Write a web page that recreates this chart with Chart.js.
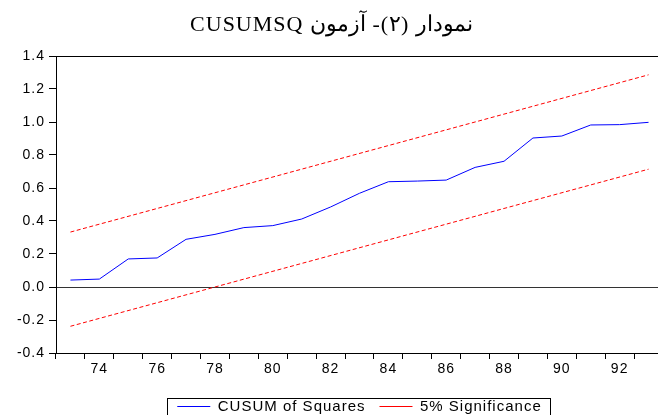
<!DOCTYPE html>
<html>
<head>
<meta charset="utf-8">
<script src="https://cdn.jsdelivr.net/npm/chart.js@4"></script>
<style>
  html, body { margin: 0; padding: 0; background: #fff; overflow: hidden; }
</style>
</head>
<body>
<canvas id="chart" width="663" height="424"></canvas>
<script>
// years on the x axis (every other one is labelled)
const years = ['73', '74', '75', '76', '77', '78', '79', '80', '81', '82', '83',
               '84', '85', '86', '87', '88', '89', '90', '91', '92', '93'];
const labelledYears = ['74', '76', '78', '80', '82', '84', '86', '88', '90', '92'];

// CUSUM of squares
const cusumSq = [0.042, 0.048, 0.170, 0.176, 0.289, 0.319, 0.360, 0.372, 0.412, 0.485, 0.568,
                 0.638, 0.642, 0.648, 0.725, 0.762, 0.903, 0.915, 0.982, 0.984, 0.998];

// 5% bands are straight lines: only the end values are given
const upperBand = [0.333, null, null, null, null, null, null, null, null, null, null,
                   null, null, null, null, null, null, null, null, null, 1.286];
const lowerBand = [-0.238, null, null, null, null, null, null, null, null, null, null,
                   null, null, null, null, null, null, null, null, null, 0.714];

const yTicks = [-0.4, -0.2, 0.0, 0.2, 0.4, 0.6, 0.8, 1.0, 1.2, 1.4];

const titleText = '\u202Bنمودار (۲)- آزمون CUSUMSQ\u202C';

Chart.defaults.color = '#000';
Chart.defaults.font.family = '"Liberation Sans", Arial, sans-serif';
Chart.defaults.font.size = 14;

// EViews style text is spaced out a bit
const spacing = {
  id: 'spacing',
  beforeUpdate(chart) { chart.ctx.letterSpacing = '1px'; },
  beforeDraw(chart) { chart.ctx.letterSpacing = '1px'; }
};

// frame round the legend
const legendFrame = {
  id: 'legendFrame',
  afterDraw(chart) {
    const boxes = chart.legend && chart.legend.legendHitBoxes;
    if (!boxes || !boxes.length) return;
    const first = boxes[0], last = boxes[boxes.length - 1];
    const left = Math.round(first.left - 10);
    const right = Math.round(last.left + last.width + 8);
    const top = Math.round(first.top + first.height / 2 - 9);
    const ctx = chart.ctx;
    ctx.save();
    ctx.strokeStyle = '#000';
    ctx.lineWidth = 1;
    ctx.strokeRect(left + 0.5, top + 0.5, right - left, 20);
    ctx.restore();
  }
};

new Chart(document.getElementById('chart'), {
  type: 'line',
  data: {
    labels: years,
    datasets: [
      {
        label: 'CUSUM of Squares',
        data: cusumSq,
        borderColor: '#0000ff',
        borderWidth: 1,
        pointRadius: 0,
        tension: 0
      },
      {
        label: '5% Significance',
        data: upperBand,
        borderColor: '#ff0000',
        borderWidth: 1,
        borderDash: [4, 2.5],
        pointRadius: 0,
        spanGaps: true
      },
      {
        label: '5% Significance (lower)',
        data: lowerBand,
        borderColor: '#ff0000',
        borderWidth: 1,
        borderDash: [4, 2.5],
        pointRadius: 0,
        spanGaps: true
      }
    ]
  },
  options: {
    responsive: false,
    animation: false,
    devicePixelRatio: 1,
    layout: { padding: 0 },
    plugins: {
      title: {
        display: true,
        text: titleText,
        font: { family: '"Liberation Serif", "Times New Roman", serif', size: 22, weight: 'normal' },
        padding: { top: 12, bottom: 17.6 }
      },
      legend: {
        position: 'bottom',
        fullSize: false,
        labels: {
          usePointStyle: true,
          pointStyle: 'line',
          pointStyleWidth: 33,
          padding: 14,
          font: { size: 15 },
          filter: item => item.datasetIndex !== 2
        }
      },
      tooltip: { enabled: false }
    },
    scales: {
      x: {
        type: 'category',
        offset: true,
        grid: {
          offset: true,
          drawOnChartArea: false,
          tickLength: 6,
          tickColor: '#000'
        },
        border: { color: '#000', width: 1 },
        ticks: {
          autoSkip: false,
          maxRotation: 0,
          padding: 2,
          callback: function (value) {
            const lab = this.getLabelForValue(value);
            return labelledYears.includes(lab) ? lab : '';
          }
        },
        afterFit: s => { s.height = 32; }
      },
      y: {
        min: -0.4,
        max: 1.4,
        afterBuildTicks: s => { s.ticks = yTicks.map(v => ({ value: v })); },
        grid: {
          color: ctx => {
            const v = ctx.tick && ctx.tick.value;
            if (v === undefined) return 'rgba(0,0,0,0)';
            if (Math.abs(v - 1.4) < 1e-9) return '#000';
            if (Math.abs(v) < 1e-9) return '#333';
            return 'rgba(0,0,0,0)';
          },
          tickColor: '#000',
          tickLength: 7
        },
        border: { color: '#000', width: 1 },
        ticks: {
          padding: 4,
          callback: v => v.toFixed(1)
        },
        afterFit: s => { s.width = 56; }
      }
    }
  },
  plugins: [spacing, legendFrame]
});
</script>
</body>
</html>
